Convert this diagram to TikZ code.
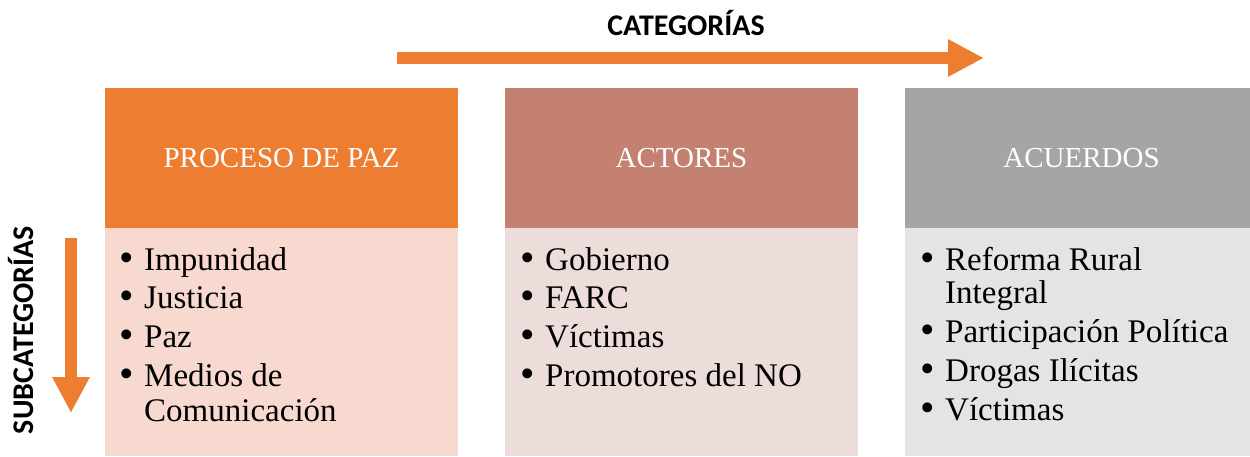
\documentclass[tikz,border=0pt]{standalone}
\usepackage{fontspec}
\setmainfont{Liberation Serif}
\newfontfamily\catfont{Carlito}
\usetikzlibrary{arrows.meta,positioning}
\definecolor{pazorange}{HTML}{ED7D31}
\definecolor{pazlight}{HTML}{F8D9D0}
\definecolor{actrose}{HTML}{C48171}
\definecolor{actlight}{HTML}{EDDDDA}
\definecolor{acugray}{HTML}{A5A5A5}
\definecolor{aculight}{HTML}{E4E4E4}
\newcommand{\bul}{\makebox[0pt][r]{\raisebox{-1pt}{\scalebox{1.25}{\textbullet}}\hspace{10pt}}}
\tikzset{
  head/.style={anchor=north west, minimum width=353pt, minimum height=140pt,
    inner sep=0pt, outer sep=0pt, text=white, font=\fontsize{29}{30}\selectfont},
  body/.style={minimum width=353pt, minimum height=228pt, inner sep=0pt, outer sep=0pt},
  item/.style={anchor=base west, inner sep=0pt, font=\fontsize{33}{34}\selectfont},
  cat/.style={anchor=base, inner sep=0pt, font=\catfont\bfseries\fontsize{30}{32}\selectfont},
  catarrow/.style={draw=pazorange, line width=12pt, -{Triangle[width=35pt,length=36pt]}}
}
\begin{document}
\begin{tikzpicture}[x=1pt, y=-1pt]
  \useasboundingbox (0,0) rectangle (1250,456);
  % categorias
  \node[cat] (cat) at (686,35) {CATEGORÍAS};
  \coordinate (cs) at (397,58);
  \coordinate (ce) at (984,58);
  \draw[catarrow] (cs) -- (ce);
  % subcategorias
  \node[cat, rotate=90] (sub) at (33,330) {SUBCATEGORÍAS};
  \coordinate (ss) at (71,238);
  \coordinate (se) at (71,413);
  \draw[catarrow] (ss) -- (se);
  % columnas
  \node[head, fill=pazorange] (h1) at (105,88) {PROCESO DE PAZ};
  \node[head, fill=actrose, right=47pt of h1] (h2) {ACTORES};
  \node[head, fill=acugray, right=47pt of h2] (h3) {ACUERDOS};
  \node[body, fill=pazlight, below=0pt of h1] (b1) {};
  \node[body, fill=actlight, below=0pt of h2] (b2) {};
  \node[body, fill=aculight, below=0pt of h3] (b3) {};
  % subcategorias por columna
  \foreach \n/\y/\t in {1/270/{\bul Impunidad}, 2/308.5/{\bul Justicia},
      3/347/{\bul Paz}, 4/386.5/{\bul Medios de}, 5/421.5/{Comunicación}}
    \node[item] (pp\n) at (144,\y) {\t};
  \foreach \n/\y/\t in {1/270/{\bul Gobierno}, 2/308.5/{\bul FARC},
      3/347/{\bul Víctimas}, 4/386.5/{\bul Promotores del NO}}
    \node[item] (ac\n) at (545,\y) {\t};
  \foreach \n/\y/\t in {1/270/{\bul Reforma Rural}, 2/303.5/{Integral},
      3/342/{\bul Participación Política}, 4/381.5/{\bul Drogas Ilícitas},
      5/420/{\bul Víctimas}}
    \node[item] (au\n) at (945,\y) {\t};
\end{tikzpicture}
\end{document}
